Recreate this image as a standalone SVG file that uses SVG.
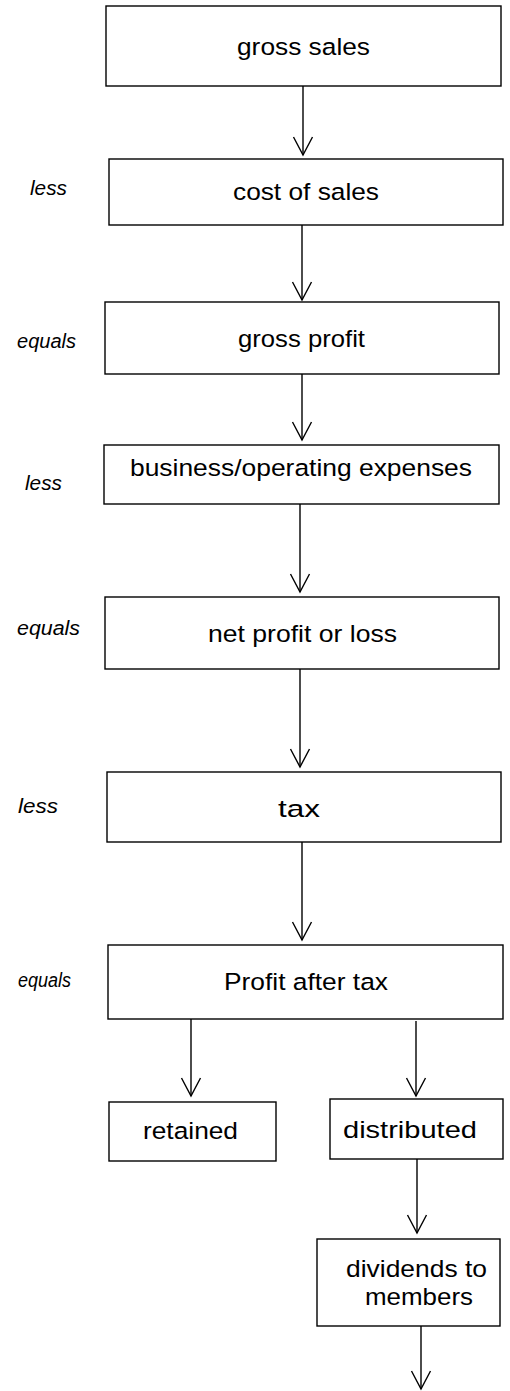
<svg xmlns="http://www.w3.org/2000/svg" width="510" height="1391" viewBox="0 0 510 1391">
<defs>
<marker id="arr" markerUnits="userSpaceOnUse" markerWidth="40" markerHeight="40" refX="0" refY="0" orient="auto" overflow="visible">
<path d="M-18,-9.5 L0,0 L-18,9.5" fill="none" stroke="#000" stroke-width="1.4"/>
</marker>
</defs>
<style>
.box{fill:#fff;stroke:#000;stroke-width:1.4}
.t{font-family:"Liberation Sans",Arial,sans-serif;font-size:24.5px;fill:#000}
.lbl{font-family:"Liberation Sans",Arial,sans-serif;font-size:20px;font-style:italic;fill:#000}
.c{fill:none;stroke:#000;stroke-width:1.4;marker-end:url(#arr)}
</style>
<rect width="510" height="1391" fill="#fff"/>
<g id="connectors">
<line class="c" x1="303" y1="86" x2="303" y2="155"/>
<line class="c" x1="302" y1="225" x2="302" y2="300"/>
<line class="c" x1="302" y1="374" x2="302" y2="440"/>
<line class="c" x1="300" y1="504" x2="300" y2="592"/>
<line class="c" x1="300" y1="669" x2="300" y2="767"/>
<line class="c" x1="302" y1="842" x2="302" y2="940"/>
<line class="c" x1="191" y1="1019" x2="191" y2="1096"/>
<line class="c" x1="416" y1="1021" x2="416" y2="1096"/>
<line class="c" x1="417" y1="1159" x2="417" y2="1233"/>
<line class="c" x1="421" y1="1326" x2="421" y2="1389"/>
</g>
<g id="n-gross-sales">
<rect class="box" x="106" y="6" width="395" height="80"/>
<text class="t" x="237" y="55" textLength="133" lengthAdjust="spacingAndGlyphs">gross sales</text>
</g>
<g id="n-cost-of-sales">
<rect class="box" x="109" y="159" width="394" height="66"/>
<text class="t" x="233" y="200" textLength="146" lengthAdjust="spacingAndGlyphs">cost of sales</text>
</g>
<g id="n-gross-profit">
<rect class="box" x="105" y="302" width="394" height="72"/>
<text class="t" x="238" y="347" textLength="127" lengthAdjust="spacingAndGlyphs">gross profit</text>
</g>
<g id="n-business">
<rect class="box" x="104" y="445" width="395" height="59"/>
<text class="t" x="130" y="476" textLength="342" lengthAdjust="spacingAndGlyphs">business/operating expenses</text>
</g>
<g id="n-net-profit">
<rect class="box" x="105" y="597" width="394" height="72"/>
<text class="t" x="208" y="642" textLength="189" lengthAdjust="spacingAndGlyphs">net profit or loss</text>
</g>
<g id="n-tax">
<rect class="box" x="107" y="772" width="394" height="70"/>
<text class="t" x="278" y="817" textLength="42" lengthAdjust="spacingAndGlyphs">tax</text>
</g>
<g id="n-profit-after-tax">
<rect class="box" x="108" y="945" width="395" height="74"/>
<text class="t" x="224" y="990" textLength="164" lengthAdjust="spacingAndGlyphs">Profit after tax</text>
</g>
<g id="n-retained">
<rect class="box" x="109" y="1102" width="167" height="59"/>
<text class="t" x="143" y="1139" textLength="95" lengthAdjust="spacingAndGlyphs">retained</text>
</g>
<g id="n-distributed">
<rect class="box" x="330" y="1099" width="173" height="60"/>
<text class="t" x="343" y="1138" textLength="134" lengthAdjust="spacingAndGlyphs">distributed</text>
</g>
<g id="n-dividends">
<rect class="box" x="317" y="1239" width="183" height="87"/>
<text class="t" x="346" y="1277" textLength="141" lengthAdjust="spacingAndGlyphs">dividends to</text>
<text class="t" x="365" y="1305" textLength="108" lengthAdjust="spacingAndGlyphs">members</text>
</g>
<g id="labels">
<text class="lbl" x="30" y="195" textLength="37" lengthAdjust="spacingAndGlyphs">less</text>
<text class="lbl" x="17" y="348" textLength="59" lengthAdjust="spacingAndGlyphs">equals</text>
<text class="lbl" x="25" y="490" textLength="37" lengthAdjust="spacingAndGlyphs">less</text>
<text class="lbl" x="17" y="635" textLength="63" lengthAdjust="spacingAndGlyphs">equals</text>
<text class="lbl" x="18" y="813" textLength="40" lengthAdjust="spacingAndGlyphs">less</text>
<text class="lbl" x="18" y="987" textLength="53" lengthAdjust="spacingAndGlyphs">equals</text>
</g>
</svg>
